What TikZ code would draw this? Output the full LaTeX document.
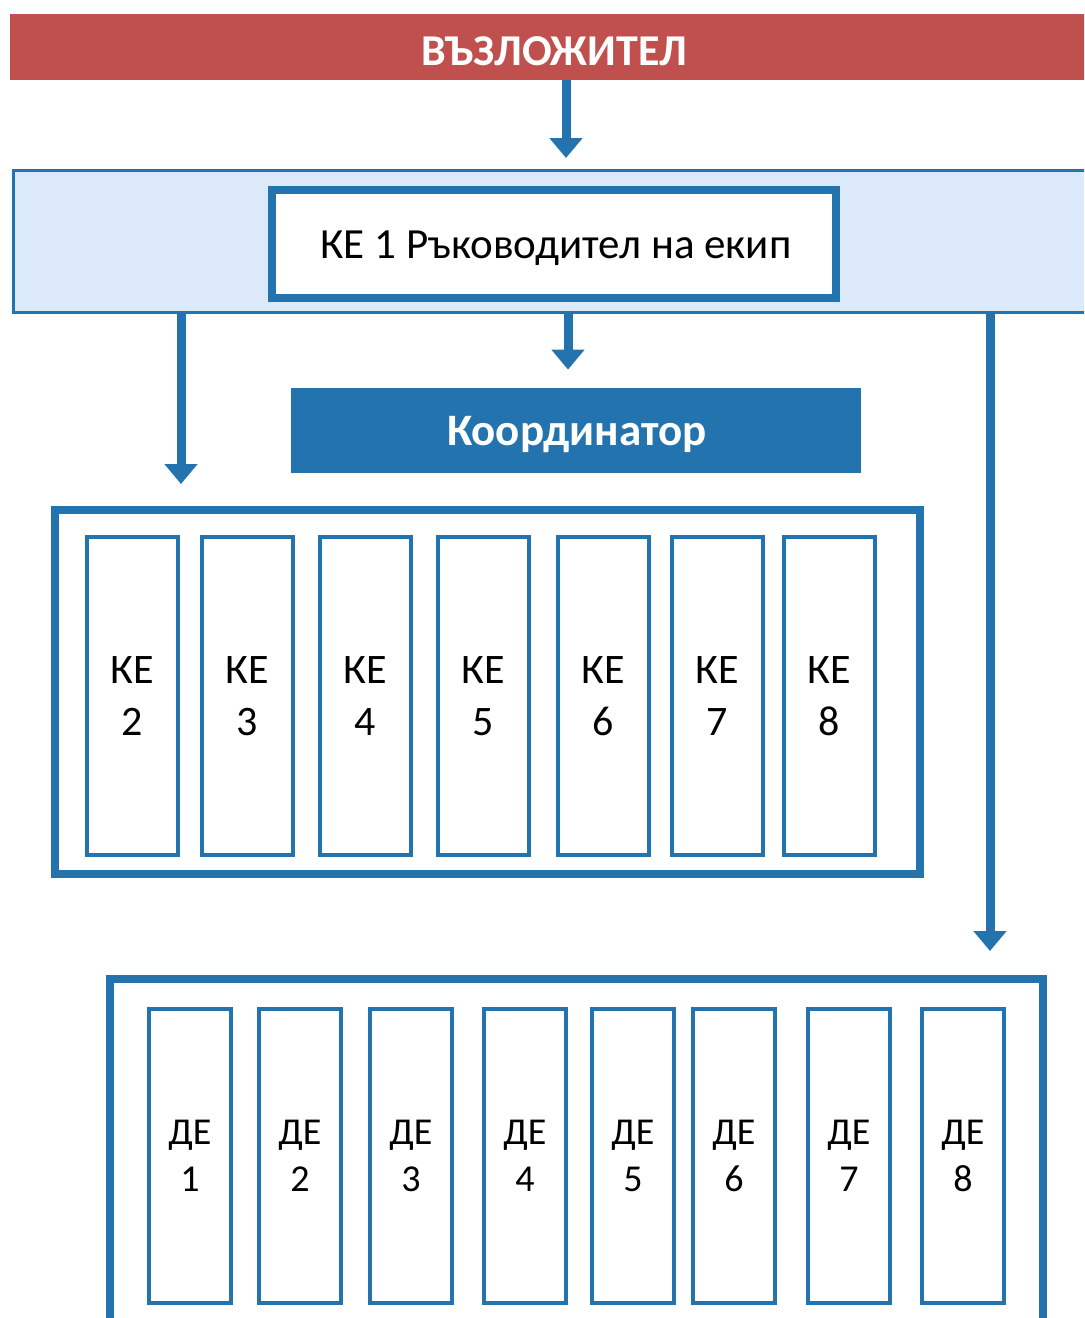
\documentclass[tikz,border=0pt]{standalone}
\usepackage{fontspec}
\setmainfont{Carlito}
\usetikzlibrary{arrows.meta,positioning}

\definecolor{zred}{RGB}{192,80,77}
\definecolor{zblue}{RGB}{35,115,175}
\definecolor{zband}{RGB}{220,233,248}

\tikzset{
  flow/.style={zblue, line width=4.5pt, -{Triangle[width=16pt,length=10pt]}},
  frame/.style={draw=zblue, line width=4pt, fill=white, inner sep=0pt},
  kebox/.style={draw=zblue, line width=2pt, fill=white, inner sep=0pt, align=center,
    minimum width=45.5pt, minimum height=159pt, font=\fontsize{21}{26}\selectfont},
  debox/.style={draw=zblue, line width=2pt, fill=white, inner sep=0pt, align=center,
    minimum width=41pt, minimum height=147pt, font=\fontsize{19}{23.5}\selectfont},
}

\begin{document}
\begin{tikzpicture}[x=0.5pt, y=-0.5pt]
  \clip (0,0) rectangle (1084,1318);
  \fill[white] (0,0) rectangle (1084,1318);

  % Top bar
  \node[fill=zred, minimum width=545pt, minimum height=33pt, inner sep=0pt] (client) at (555,47) {};
  \node[text=white, font=\fontsize{22}{26}\selectfont\bfseries] (clienttxt) at (554,51) {ВЪЗЛОЖИТЕЛ};

  % Team leader band
  \node[draw=zblue, line width=1.5pt, fill=zband, minimum width=543.5pt, minimum height=71pt] (band) at (556.5,241.5) {};
  \node[frame, minimum width=282pt, minimum height=54pt] (lead) at (554,244) {};
  \node[font=\fontsize{21.5}{26}\selectfont] (leadtxt) at (556,248) {КЕ 1 Ръководител на екип};

  % Coordinator
  \node[fill=zblue, minimum width=285pt, minimum height=42.5pt, inner sep=0pt] (coord) at (576,430.5) {};
  \node[text=white, font=\fontsize{22.5}{26}\selectfont\bfseries] (coordtxt) at (577,435) {Координатор};

  % Key experts
  \node[frame, minimum width=432.5pt, minimum height=182pt] (kef) at (487.5,692) {};
  \foreach \n/\x in {2/132,3/247,4/365,5/483,6/603,7/717.5,8/829.5}
    \node[kebox] (ke\n) at (\x,696) {КЕ\\\n};

  % Non-key experts
  \node[frame, minimum width=466.5pt, minimum height=190.5pt] (def) at (576.5,1169.5) {};
  \foreach \n/\x in {1/190,2/300,3/411,4/525,5/633,6/734,7/849,8/963}
    \node[debox] (de\n) at (\x,1156) {ДЕ\\\n};

  % Arrows
  \draw[flow, shorten >=5.5pt] (566,0 |- client.south) -- (566,0 |- band.north);
  \draw[flow, shorten >=9pt] (568,0 |- band.south) -- (568,0 |- coord.north);
  \draw[flow, shorten >=11pt] (181,0 |- band.south) -- (181,0 |- kef.north);
  \draw[flow, shorten >=12pt] (990,0 |- band.south) -- (990,0 |- def.north);
\end{tikzpicture}
\end{document}
